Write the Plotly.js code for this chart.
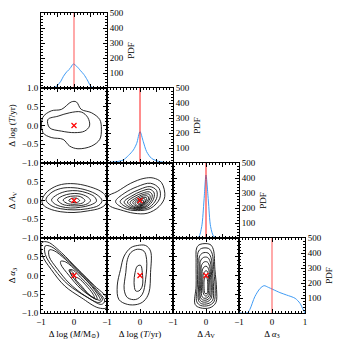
<!DOCTYPE html>
<html><head><meta charset="utf-8">
<script src="https://cdn.plot.ly/plotly-3.0.1.min.js"></script>
<style>html,body{margin:0;padding:0;background:#fff}#chart{width:340px;height:340px}</style>
</head><body><div id="chart"></div>
<script>
// ---- labels ----
const paramLabels = ['Δ log (<i>M</i>/M<sub>⊙</sub>)', 'Δ log (<i>T</i>/yr)', 'Δ <i>A</i><sub>V</sub>', 'Δ <i>α</i><sub>3</sub>'];
const truth = [0, 0, 0, 0];
const xTickValsPlain = [-1, -0.5, 0, 0.5, 1];
const xTickValsBottom = [-1, 0];
const xTickTextBottom = ['−1', '0'];
const xTickValsLast = [-1, 0, 1];
const xTickTextLast = ['−1', '0', '1'];
const yTickValsRow1 = [-1, -0.5, 0, 0.5, 1];
const yTickTextRow1 = ['−1.0', '−0.5', '0.0', '0.5', '1.0'];
const yTickValsRows = [-1, -0.5, 0, 0.5];
const yTickTextRows = ['−1.0', '−0.5', '0.0', '0.5'];
const pdfTickVals = [100, 200, 300, 400, 500];
const pdfTickText = ['100', '200', '300', '400', '500'];

// ---- marginal PDFs ----
const pdfX_logM = [-1, -0.8, -0.62, -0.5, -0.4, -0.32, -0.22, -0.12, -0.02, 0.08, 0.2, 0.3, 0.4, 0.5, 0.58, 0.8, 1];
const pdfY_logM = [0, 0, 0, 18, 45, 78, 108, 130, 160, 145, 115, 90, 55, 15, 0, 0, 0];
const pdfX_logT = [-1, -0.71, -0.51, -0.35, -0.2, -0.1, 0, 0.1, 0.2, 0.35, 0.56, 0.8, 1];
const pdfY_logT = [2, 9, 20, 50, 87, 131, 209, 142, 76, 31, 11, 3, 1];
const pdfX_Av = [-1, -0.4, -0.23, -0.13, -0.06, 0, 0.07, 0.14, 0.24, 0.42, 1];
const pdfY_Av = [0, 0, 4, 76, 253, 420, 253, 76, 9, 0, 0];
const pdfX_a3 = [-1, -0.75, -0.67, -0.52, -0.36, -0.24, -0.11, 0.02, 0.24, 0.44, 0.7, 0.85, 0.95, 1];
const pdfY_a3 = [0, 0, 24, 109, 164, 182, 171, 158, 136, 120, 98, 64, 20, 0];

// ---- contour rings [x[], y[]] ----
const cont_logM_logT = [
  [[-0.95,-0.69,-0.38,-0.08,0.07,0.22,0.53,0.78,0.83,0.78,0.53,0.12,-0.13,-0.33,-0.69,-0.94,-0.95],
   [0.21,0.39,0.43,0.63,0.63,0.43,0.34,0.16,-0.10,-0.37,-0.55,-0.62,-0.55,-0.37,-0.32,-0.19,0.21]],
  [[-0.79,-0.48,-0.13,0.22,0.42,0.47,0.32,0.02,-0.38,-0.74,-0.79],
   [0.16,0.25,0.34,0.36,0.21,-0.01,-0.15,-0.19,-0.15,-0.06,0.16]]
];
const cont_logM_Av = [
  [[-0.97,-0.85,-0.6,-0.3,0.1,0.5,0.8,0.96,0.97,0.8,0.4,0.0,-0.4,-0.75,-0.93,-0.97],
   [0.0,0.2,0.36,0.44,0.44,0.36,0.25,0.12,-0.08,-0.2,-0.28,-0.32,-0.3,-0.22,-0.12,0.0]],
  [[-0.85,-0.7,-0.4,0.0,0.4,0.7,0.85,0.75,0.4,0.0,-0.4,-0.7,-0.85],
   [0.02,0.2,0.32,0.34,0.27,0.15,0.0,-0.13,-0.22,-0.25,-0.22,-0.13,0.02]],
  [[-0.68,-0.5,-0.2,0.1,0.4,0.62,0.68,0.5,0.2,-0.1,-0.4,-0.6,-0.68],
   [0.02,0.16,0.25,0.26,0.2,0.1,-0.02,-0.12,-0.18,-0.2,-0.16,-0.08,0.02]],
  [[-0.5,-0.35,-0.1,0.15,0.4,0.5,0.4,0.15,-0.1,-0.35,-0.5],
   [0.02,0.12,0.18,0.18,0.1,0.0,-0.09,-0.14,-0.14,-0.1,0.02]],
  [[-0.33,-0.2,0.0,0.2,0.33,0.25,0.0,-0.2,-0.33],
   [0.01,0.09,0.12,0.1,0.0,-0.07,-0.1,-0.08,0.01]],
  [[-0.16,-0.05,0.08,0.17,0.1,-0.05,-0.16],
   [0.0,0.06,0.06,0.0,-0.05,-0.05,0.0]]
];
const cont_logT_Av = [
  [[-0.99,-0.69,-0.28,0.12,0.4,0.65,0.75,0.58,0.22,-0.18,-0.59,-0.89,-0.99,-0.99],
   [0.10,0.24,0.46,0.59,0.6,0.48,0.10,-0.16,-0.34,-0.34,-0.25,-0.16,-0.07,0.10]],
  [[-0.74,-0.48,-0.08,0.32,0.58,0.6,0.32,-0.08,-0.48,-0.74],
   [-0.03,0.19,0.37,0.46,0.32,0.06,-0.21,-0.27,-0.21,-0.03]],
  [[-0.6,-0.35,0.0,0.3,0.5,0.5,0.28,-0.05,-0.38,-0.6],
   [-0.03,0.15,0.3,0.37,0.27,0.05,-0.18,-0.24,-0.19,-0.03]],
  [[-0.48,-0.25,0.05,0.3,0.43,0.4,0.22,-0.05,-0.3,-0.48],
   [-0.04,0.12,0.25,0.3,0.2,0.02,-0.16,-0.22,-0.18,-0.04]],
  [[-0.38,-0.18,0.08,0.28,0.37,0.33,0.18,-0.03,-0.25,-0.38],
   [-0.04,0.1,0.2,0.23,0.15,0.0,-0.15,-0.2,-0.16,-0.04]],
  [[-0.3,-0.12,0.1,0.27,0.31,0.26,0.14,-0.02,-0.2,-0.3],
   [-0.05,0.07,0.16,0.17,0.1,-0.02,-0.14,-0.19,-0.15,-0.05]],
  [[-0.22,-0.07,0.1,0.23,0.26,0.2,0.1,-0.02,-0.15,-0.22],
   [-0.05,0.05,0.12,0.12,0.06,-0.04,-0.13,-0.17,-0.13,-0.05]],
  [[-0.15,-0.03,0.1,0.19,0.2,0.15,0.08,-0.02,-0.11,-0.15],
   [-0.05,0.03,0.08,0.08,0.03,-0.05,-0.12,-0.15,-0.12,-0.05]],
  [[-0.09,0.0,0.1,0.15,0.15,0.1,0.04,-0.04,-0.09],
   [-0.05,0.02,0.05,0.04,-0.04,-0.1,-0.13,-0.11,-0.05]],
  [[-0.04,0.03,0.09,0.11,0.08,0.02,-0.03,-0.04],
   [-0.05,0.0,0.01,-0.04,-0.09,-0.11,-0.09,-0.05]],
  [[0.0,0.05,0.07,0.05,0.01,0.0],
   [-0.06,-0.04,-0.07,-0.09,-0.09,-0.06]]
];
const cont_logM_a3 = [
  [[-0.97,-0.79,-0.38,0.12,0.63,0.98,0.98,0.73,0.22,-0.28,-0.69,-0.97,-0.97],
   [0.88,0.89,0.61,0.16,-0.28,-0.59,-0.86,-0.86,-0.59,-0.28,0.16,0.56,0.88]],
  [[-0.87,-0.69,-0.33,0.22,0.68,0.93,0.83,0.42,-0.18,-0.59,-0.87,-0.87],
   [0.79,0.77,0.52,0.07,-0.37,-0.68,-0.77,-0.59,-0.24,0.16,0.56,0.79]],
  [[-0.75,-0.6,-0.25,0.25,0.65,0.86,0.75,0.35,-0.15,-0.5,-0.75,-0.75],
   [0.68,0.66,0.42,0.0,-0.38,-0.65,-0.72,-0.55,-0.2,0.17,0.5,0.68]],
  [[-0.4,-0.25,0.1,0.45,0.75,0.8,0.6,0.2,-0.15,-0.4,-0.4],
   [0.38,0.36,0.1,-0.2,-0.55,-0.66,-0.6,-0.35,0.0,0.3,0.38]],
  [[-0.15,-0.02,0.2,0.48,0.68,0.7,0.5,0.2,-0.05,-0.15],
   [0.15,0.14,-0.05,-0.3,-0.55,-0.64,-0.55,-0.3,-0.02,0.15]],
  [[0.05,0.15,0.35,0.58,0.62,0.45,0.2,0.05,0.05],
   [-0.05,-0.08,-0.25,-0.5,-0.6,-0.5,-0.25,-0.1,-0.05]],
  [[-0.12,-0.05,0.02,-0.02,-0.1,-0.12],
   [0.14,0.1,-0.02,-0.06,0.06,0.14]]
];
const cont_logT_a3 = [
  [[-0.48,-0.28,-0.08,0.17,0.32,0.32,0.27,0.12,-0.08,-0.38,-0.64,-0.69,-0.59,-0.48],
   [0.52,0.74,0.80,0.80,0.65,0.08,-0.46,-0.68,-0.77,-0.77,-0.64,-0.28,0.16,0.52]],
  [[-0.28,-0.08,0.12,0.2,0.17,0.07,-0.13,-0.38,-0.48,-0.43,-0.38,-0.28],
   [0.61,0.70,0.65,0.43,-0.10,-0.50,-0.64,-0.59,-0.37,0.08,0.43,0.61]],
  [[-0.08,0.02,0.07,0.07,-0.03,-0.13,-0.18,-0.15,-0.08],
   [0.25,0.27,0.08,-0.28,-0.41,-0.41,-0.19,0.08,0.25]]
];
const cont_Av_a3 = [
  [[-0.28,-0.18,0.12,0.22,0.27,0.32,0.30,0.12,-0.18,-0.33,-0.30,-0.30,-0.28],
   [0.74,0.83,0.83,0.70,0.16,-0.37,-0.72,-0.86,-0.86,-0.77,-0.28,0.34,0.74]],
  [[-0.24,-0.14,0.08,0.18,0.24,0.28,0.24,0.08,-0.16,-0.28,-0.26,-0.25,-0.24],
   [0.62,0.72,0.72,0.6,0.1,-0.4,-0.7,-0.8,-0.8,-0.7,-0.25,0.3,0.62]],
  [[-0.2,-0.1,0.06,0.15,0.2,0.23,0.2,0.06,-0.14,-0.23,-0.22,-0.21,-0.2],
   [0.5,0.6,0.6,0.48,0.05,-0.4,-0.66,-0.75,-0.75,-0.66,-0.25,0.25,0.5]],
  [[-0.17,-0.08,0.05,0.13,0.17,0.19,0.15,0.04,-0.12,-0.2,-0.19,-0.18,-0.17],
   [0.38,0.48,0.48,0.36,0.0,-0.4,-0.62,-0.7,-0.7,-0.62,-0.25,0.2,0.38]],
  [[-0.14,-0.06,0.04,0.11,0.14,0.16,0.12,0.03,-0.1,-0.17,-0.16,-0.15,-0.14],
   [0.26,0.36,0.36,0.24,-0.05,-0.4,-0.58,-0.65,-0.65,-0.58,-0.25,0.12,0.26]],
  [[-0.11,-0.04,0.03,0.09,0.11,0.12,0.09,0.02,-0.08,-0.13,-0.13,-0.12,-0.11],
   [0.15,0.24,0.24,0.13,-0.1,-0.4,-0.54,-0.6,-0.6,-0.54,-0.25,0.05,0.15]],
  [[-0.08,-0.02,0.03,0.07,0.08,0.06,0.0,-0.07,-0.1,-0.09,-0.08],
   [0.04,0.12,0.12,0.02,-0.4,-0.5,-0.55,-0.5,-0.3,-0.05,0.04]],
  [[-0.05,0.0,0.04,0.05,0.03,-0.03,-0.06,-0.05],
   [-0.1,-0.02,-0.1,-0.4,-0.48,-0.48,-0.3,-0.1]]
];

// ---- build figure ----
const W = 340, H = 340;
const left0 = 41, top0 = 13, pw = 66, ph = 75;
const pdfs = [[pdfX_logM, pdfY_logM], [pdfX_logT, pdfY_logT], [pdfX_Av, pdfY_Av], [pdfX_a3, pdfY_a3]];
const conts = {'1,0': cont_logM_logT, '2,0': cont_logM_Av, '2,1': cont_logT_Av,
               '3,0': cont_logM_a3, '3,1': cont_logT_a3, '3,2': cont_Av_a3};
const truthLineColor = ['rgba(255,60,60,0.55)', '#ff1a1a', '#ff1a1a', 'rgba(255,60,60,0.55)'];
const truthLineWidth = [1.6, 1, 1, 1.6];
const FONT = {family: 'Liberation Serif, DejaVu Serif, serif', size: 9, color: '#000'};
const data = [];
const layout = {width: W, height: H, margin: {l: 0, r: 0, t: 0, b: 0},
  paper_bgcolor: '#fff', plot_bgcolor: '#fff', showlegend: false, font: FONT};
let k = 0;
const common = {showline: true, linecolor: '#000', linewidth: 1, mirror: 'ticks',
  ticks: 'inside', ticklen: 4, tickcolor: '#000', tickwidth: 1, showgrid: false,
  zeroline: false, tickfont: FONT, tickmode: 'array', fixedrange: true};
for (let r = 0; r < 4; r++) {
  for (let c = 0; c <= r; c++) {
    k++;
    const xa = 'x' + (k > 1 ? k : ''), ya = 'y' + (k > 1 ? k : '');
    const xd = [(left0 + pw * c) / W, (left0 + pw * (c + 1)) / W];
    const yd = [1 - (top0 + ph * (r + 1)) / H, 1 - (top0 + ph * r) / H];
    const xaxis = Object.assign({}, common, {domain: xd, anchor: ya, range: [-1, 1],
      minor: {ticks: 'inside', ticklen: 2, tickmode: 'linear', tick0: -1, dtick: 0.1, tickcolor: '#000'}});
    if (r === 3) {
      xaxis.tickvals = c === 3 ? xTickValsLast : xTickValsBottom;
      xaxis.ticktext = c === 3 ? xTickTextLast : xTickTextBottom;
      xaxis.showticklabels = true;
      xaxis.title = {text: paramLabels[c], font: FONT, standoff: 4};
    } else {
      xaxis.tickvals = xTickValsPlain;
      xaxis.showticklabels = false;
    }
    let yaxis;
    if (r === c) {
      yaxis = Object.assign({}, common, {domain: yd, anchor: xa, range: [0, 500], side: 'right',
        tickvals: pdfTickVals, ticktext: pdfTickText,
        minor: {ticks: 'inside', ticklen: 2, tickmode: 'linear', tick0: 0, dtick: 20, tickcolor: '#000'},
        title: {text: 'PDF', font: FONT, standoff: 4}});
      data.push({type: 'scatter', mode: 'lines', x: pdfs[r][0], y: pdfs[r][1], xaxis: xa, yaxis: ya,
        line: {color: '#3f9bf5', width: 1, shape: 'spline', smoothing: 0.8}, hoverinfo: 'skip'});
      data.push({type: 'scatter', mode: 'lines', x: [truth[c], truth[c]], y: [0, 500], xaxis: xa, yaxis: ya,
        line: {color: truthLineColor[r], width: truthLineWidth[r]}, hoverinfo: 'skip'});
    } else {
      yaxis = Object.assign({}, common, {domain: yd, anchor: xa, range: [-1, 1],
        minor: {ticks: 'inside', ticklen: 2, tickmode: 'linear', tick0: -1, dtick: 0.1, tickcolor: '#000'}});
      if (c === 0) {
        yaxis.tickvals = r === 1 ? yTickValsRow1 : yTickValsRows;
        yaxis.ticktext = r === 1 ? yTickTextRow1 : yTickTextRows;
        yaxis.showticklabels = true;
        yaxis.title = {text: paramLabels[r], font: FONT, standoff: 4};
      } else {
        yaxis.tickvals = yTickValsRow1;
        yaxis.showticklabels = false;
      }
      for (const ring of conts[r + ',' + c]) {
        data.push({type: 'scatter', mode: 'lines', x: ring[0], y: ring[1], xaxis: xa, yaxis: ya,
          line: {color: '#111', width: 0.9, shape: 'spline', smoothing: 1}, hoverinfo: 'skip'});
      }
      data.push({type: 'scatter', mode: 'markers', x: [truth[c]], y: [truth[r]], xaxis: xa, yaxis: ya,
        marker: {symbol: 'x-thin', size: 5, line: {color: '#ff0000', width: 1.2}}, hoverinfo: 'skip'});
    }
    layout['xaxis' + (k > 1 ? k : '')] = xaxis;
    layout['yaxis' + (k > 1 ? k : '')] = yaxis;
  }
}
Plotly.newPlot('chart', data, layout, {staticPlot: true, displayModeBar: false}).then(function (gd) {
  // drop placeholder (empty) title text nodes that Plotly leaves for untitled axes
  gd.querySelectorAll('text').forEach(function (t) {
    if (!t.textContent || !t.textContent.trim()) t.parentNode.removeChild(t);
  });
});
</script>
</body></html>
